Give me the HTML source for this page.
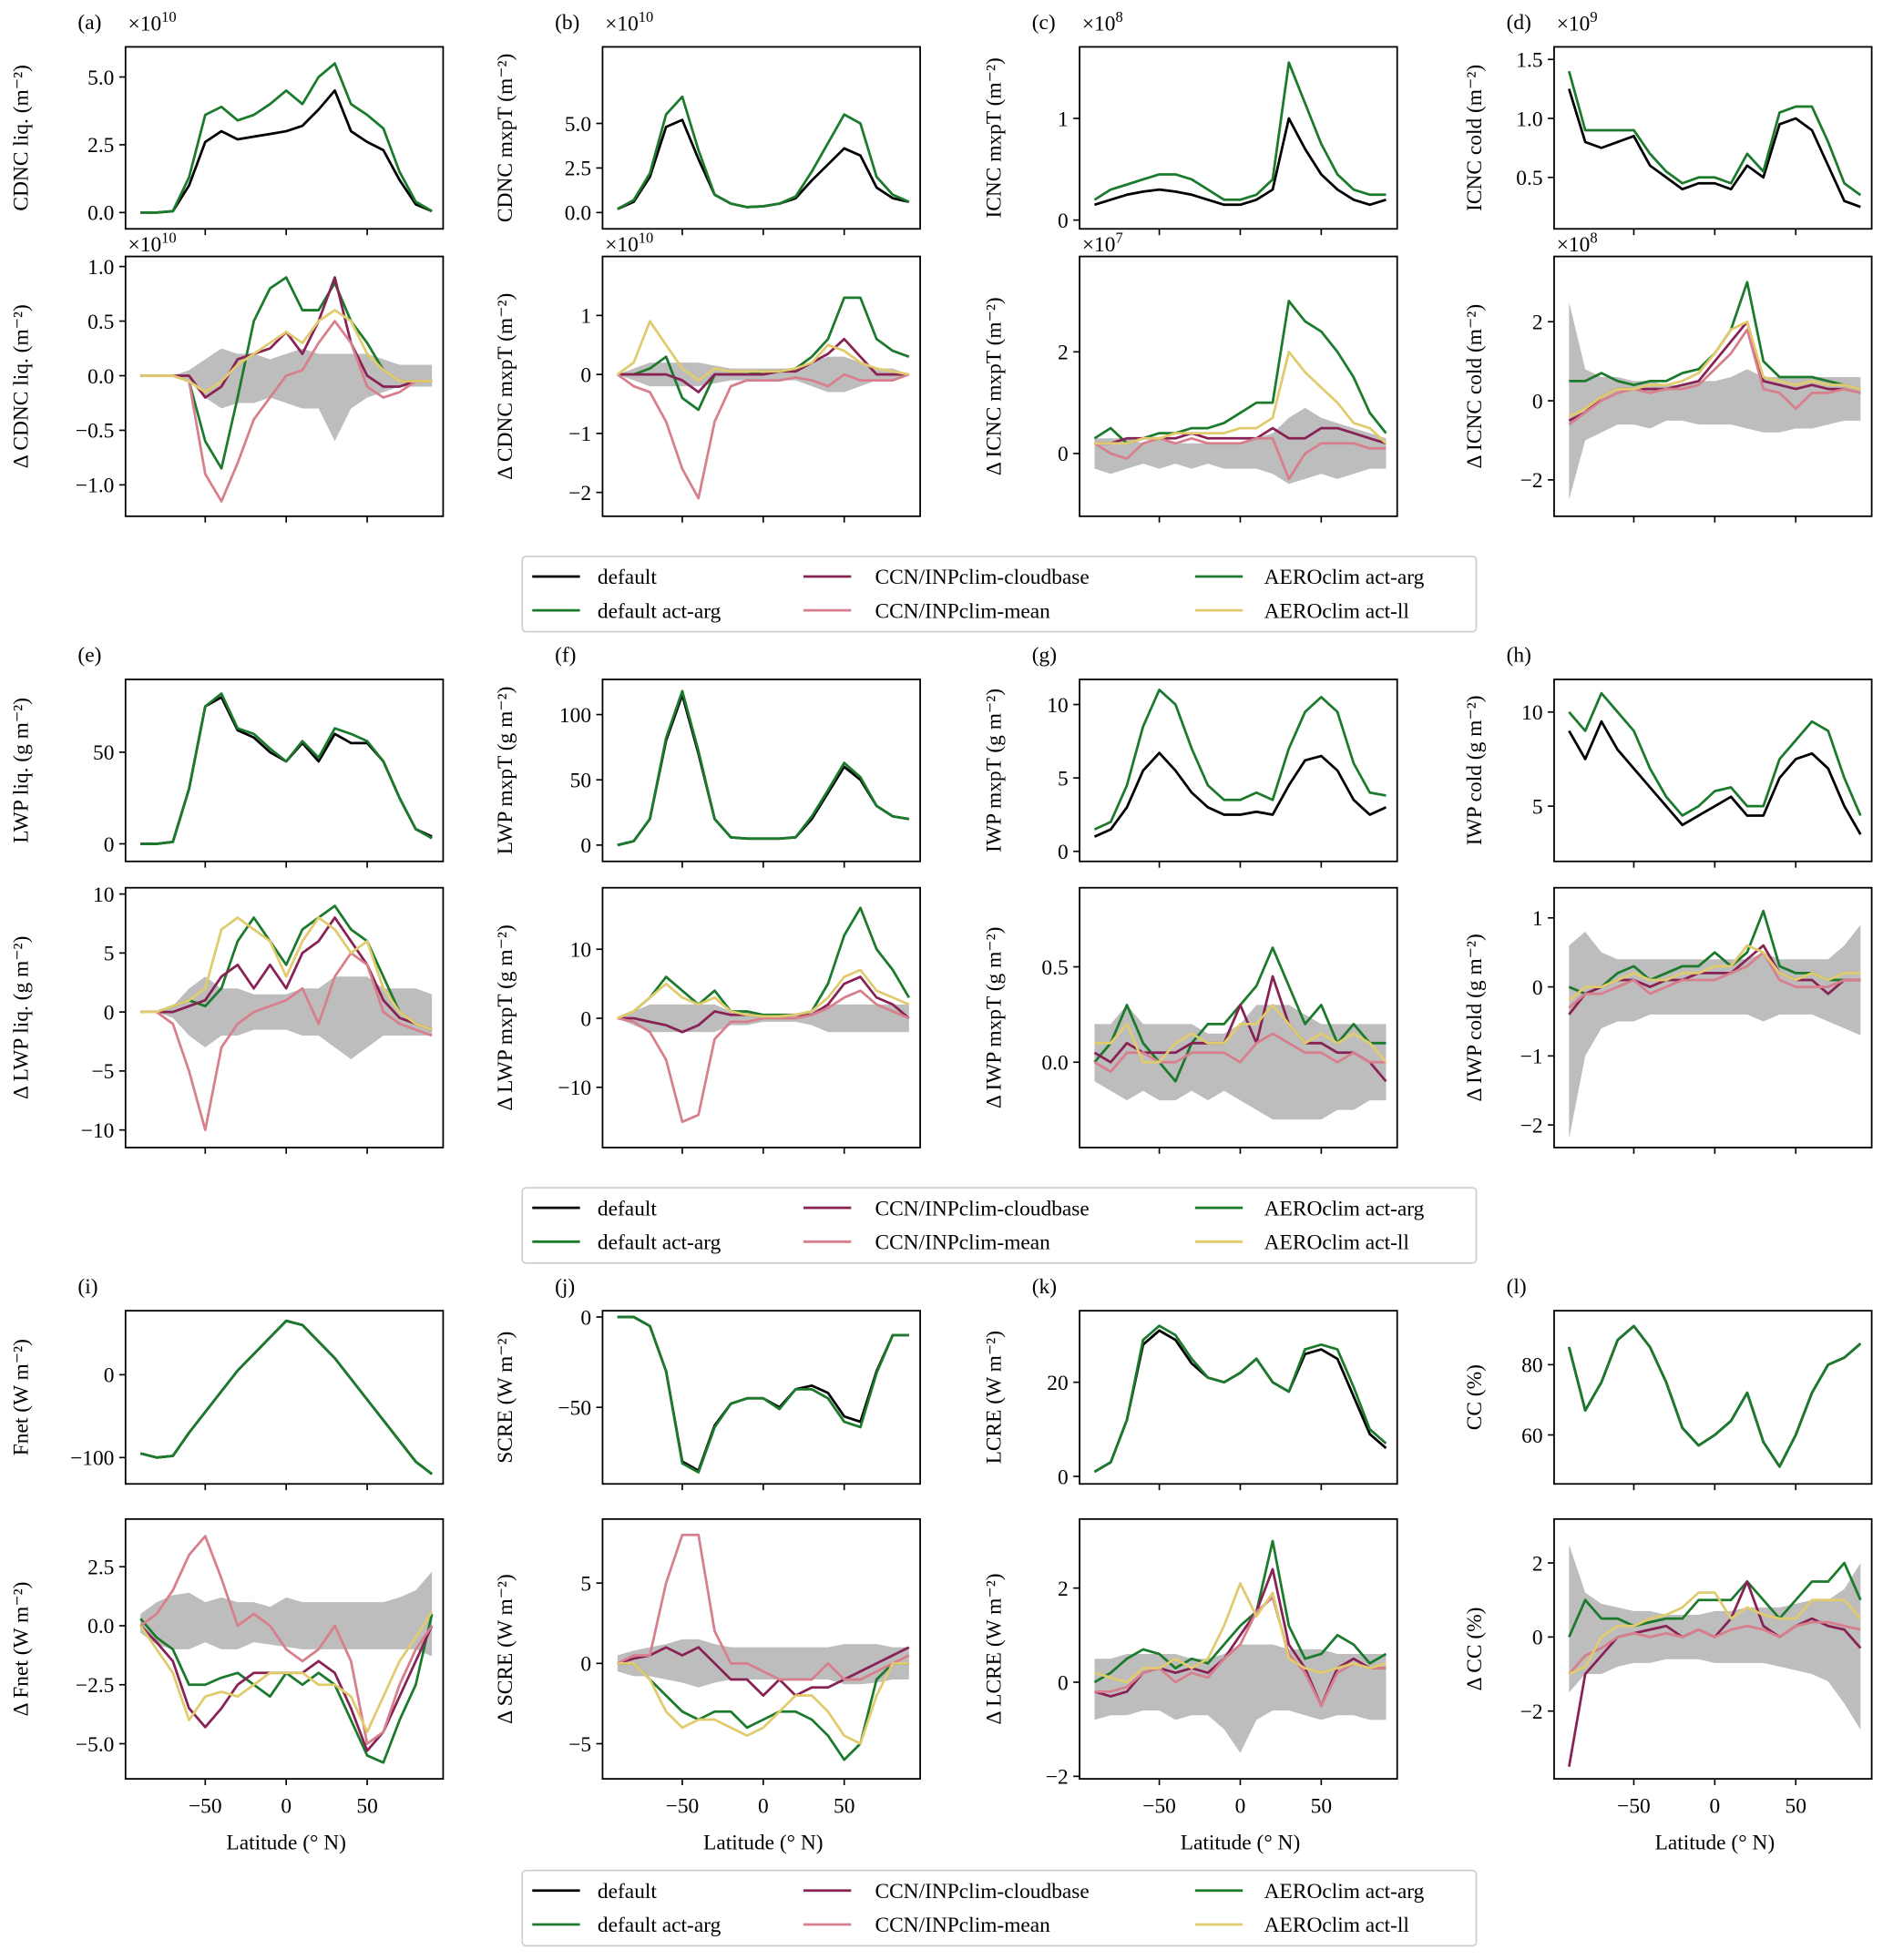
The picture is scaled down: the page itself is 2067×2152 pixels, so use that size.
<!DOCTYPE html>
<html><head><meta charset="utf-8">
<style>
html,body{margin:0;padding:0;background:#fff;}
svg{display:block;font-family:"Liberation Serif",serif;}
</style></head>
<body>
<svg id="fig" width="2067" height="2152" viewBox="0 0 1500 1561" xmlns="http://www.w3.org/2000/svg"></svg>
<script>
const lat=[-90,-80,-70,-60,-50,-40,-30,-20,-10,0,10,20,30,40,50,60,70,80,90];
const xTicks=[-50,0,50];
// (a)
const aTopBlack=[0,0,0.05,1.0,2.6,3.0,2.7,2.8,2.9,3.0,3.2,3.8,4.5,3.0,2.6,2.3,1.2,0.3,0.05];
const aTopGreen=[0,0,0.05,1.3,3.6,3.9,3.4,3.6,4.0,4.5,4.0,5.0,5.5,4.0,3.6,3.1,1.5,0.4,0.05];
const aGreen=[0,0,0,-0.05,-0.6,-0.85,-0.2,0.5,0.8,0.9,0.6,0.6,0.85,0.5,0.3,0.05,-0.05,-0.05,-0.05];
const aMaroon=[0,0,0,0,-0.2,-0.1,0.15,0.2,0.25,0.4,0.2,0.5,0.9,0.3,0,-0.1,-0.1,-0.05,-0.05];
const aPink=[0,0,0,-0.05,-0.9,-1.15,-0.8,-0.4,-0.2,0.0,0.05,0.3,0.5,0.3,-0.1,-0.2,-0.15,-0.05,-0.05];
const aYellow=[0,0,0,-0.05,-0.15,-0.05,0.1,0.2,0.3,0.4,0.3,0.5,0.6,0.5,0.2,0.05,-0.05,-0.05,-0.05];
const aLo=[0,0,0,-0.05,-0.2,-0.3,-0.25,-0.25,-0.2,-0.25,-0.3,-0.3,-0.6,-0.3,-0.2,-0.15,-0.1,-0.1,-0.1];
const aHi=[0,0,0,0.05,0.15,0.25,0.2,0.2,0.15,0.2,0.25,0.2,0.2,0.2,0.2,0.15,0.1,0.1,0.1];
// (b)
const bTopBlack=[0.2,0.6,2.0,4.8,5.2,3.0,1.0,0.5,0.3,0.35,0.5,0.8,1.8,2.7,3.6,3.2,1.4,0.8,0.6];
const bTopGreen=[0.2,0.7,2.2,5.5,6.5,3.5,1.0,0.5,0.3,0.35,0.5,0.9,2.3,3.9,5.5,5.0,2.0,1.0,0.6];
const bGreen=[0,0,0.1,0.3,-0.4,-0.6,0,0,0,0.05,0.05,0.1,0.3,0.6,1.3,1.3,0.6,0.4,0.3];
const bMaroon=[0,0,0,0,-0.1,-0.3,0,0,0,0,0.05,0.05,0.2,0.35,0.6,0.3,0,0,0];
const bPink=[0,-0.2,-0.3,-0.8,-1.6,-2.1,-0.8,-0.2,-0.1,-0.1,-0.1,-0.05,-0.1,-0.2,0,-0.1,-0.1,-0.1,0];
const bYellow=[0,0.2,0.9,0.5,0.1,-0.1,0.1,0.05,0.05,0.05,0.05,0.1,0.2,0.5,0.4,0.2,0.1,0.05,0];
const bLo=[0,-0.1,-0.2,-0.2,-0.2,-0.2,-0.15,-0.1,-0.1,-0.1,-0.1,-0.1,-0.2,-0.3,-0.3,-0.2,-0.1,-0.1,0];
const bHi=[0,0.1,0.2,0.2,0.2,0.2,0.15,0.1,0.1,0.1,0.1,0.1,0.2,0.3,0.3,0.2,0.1,0.1,0];
// (c)
const cTopBlack=[0.15,0.2,0.25,0.28,0.3,0.28,0.25,0.2,0.15,0.15,0.2,0.3,1.0,0.7,0.45,0.3,0.2,0.15,0.2];
const cTopGreen=[0.2,0.3,0.35,0.4,0.45,0.45,0.4,0.3,0.2,0.2,0.25,0.4,1.55,1.15,0.75,0.45,0.3,0.25,0.25];
const cGreen=[0.3,0.5,0.2,0.3,0.4,0.4,0.5,0.5,0.6,0.8,1.0,1.0,3.0,2.6,2.4,2.0,1.5,0.8,0.4];
const cMaroon=[0.2,0.2,0.3,0.3,0.3,0.3,0.4,0.3,0.3,0.3,0.3,0.5,0.3,0.3,0.5,0.5,0.4,0.3,0.2];
const cPink=[0.2,0,-0.1,0.2,0.3,0.2,0.3,0.2,0.2,0.2,0.3,0.3,-0.5,0,0.2,0.2,0.2,0.1,0.1];
const cYellow=[0.2,0.2,0.2,0.3,0.3,0.4,0.4,0.4,0.4,0.5,0.5,0.7,2.0,1.6,1.3,1.0,0.6,0.5,0.2];
const cLo=[-0.3,-0.4,-0.3,-0.2,-0.3,-0.2,-0.3,-0.2,-0.3,-0.3,-0.3,-0.4,-0.6,-0.5,-0.4,-0.5,-0.4,-0.3,-0.3];
const cHi=[0.3,0.3,0.3,0.2,0.3,0.2,0.2,0.2,0.2,0.2,0.3,0.4,0.7,0.9,0.7,0.6,0.5,0.4,0.3];
// (d)
const dTopBlack=[1.25,0.8,0.75,0.8,0.85,0.6,0.5,0.4,0.45,0.45,0.4,0.6,0.5,0.95,1.0,0.9,0.6,0.3,0.25];
const dTopGreen=[1.4,0.9,0.9,0.9,0.9,0.7,0.55,0.45,0.5,0.5,0.45,0.7,0.55,1.05,1.1,1.1,0.8,0.45,0.35];
const dGreen=[0.5,0.5,0.7,0.5,0.4,0.5,0.5,0.7,0.8,1.2,1.8,3.0,1.0,0.6,0.6,0.6,0.5,0.4,0.3];
const dMaroon=[-0.5,-0.3,0.1,0.3,0.3,0.3,0.3,0.4,0.5,1.0,1.5,2.0,0.5,0.4,0.3,0.4,0.3,0.3,0.2];
const dPink=[-0.6,-0.3,0,0.2,0.3,0.2,0.3,0.3,0.4,0.8,1.2,1.8,0.3,0.2,-0.2,0.2,0.2,0.3,0.2];
const dYellow=[-0.4,-0.2,0.1,0.3,0.3,0.4,0.4,0.5,0.7,1.2,1.8,2.0,0.6,0.5,0.4,0.5,0.4,0.4,0.3];
const dLo=[-2.5,-1.0,-0.8,-0.6,-0.6,-0.7,-0.5,-0.5,-0.6,-0.6,-0.6,-0.7,-0.8,-0.8,-0.7,-0.7,-0.6,-0.5,-0.5];
const dHi=[2.5,0.8,0.6,0.6,0.5,0.5,0.4,0.4,0.5,0.5,0.6,0.8,0.6,0.6,0.6,0.6,0.6,0.6,0.6];
// (e)
const eTopBlack=[0,0,1,30,75,80,62,58,50,45,55,45,60,55,55,45,25,8,4];
const eTopGreen=[0,0,1,30,75,82,63,60,52,45,56,47,63,60,56,45,25,8,3];
const eGreen=[0,0,0.5,1,0.5,2,6,8,6,4,7,8,9,7,6,3,0,-1,-1.5];
const eMaroon=[0,0,0,0.5,1,3,4,2,4,2,5,6,8,6,4,1,-0.5,-1,-1.5];
const ePink=[0,0,-1,-5,-10,-3,-1,0,0.5,1,2,-1,3,5,4,0,-1,-1.5,-2];
const eYellow=[0,0,0.5,1,2,7,8,7,6,3,6,8,7,5,6,2,0,-1,-1.5];
const eLo=[0,0,-0.5,-2,-3,-2,-2,-1.5,-1.5,-1.5,-2,-2,-3,-4,-3,-2,-2,-2,-2];
const eHi=[0,0,0.5,2,3,2,2,1.5,1.5,1.5,2,2,3,3,3,2,2,2,1.5];
// (f)
const fTopBlack=[0,3,20,80,115,70,20,6,5,5,5,6,20,40,60,50,30,22,20];
const fTopGreen=[0,3,20,82,118,72,20,6,5,5,5,6,22,42,63,52,30,22,20];
const fGreen=[0,1,3,6,4,2,4,1,1,0.5,0.5,0.5,1,5,12,16,10,7,3];
const fMaroon=[0,0,-0.5,-1,-2,-1,1,0.5,0.5,0.3,0.3,0.5,0.5,2,5,6,3,2,0];
const fPink=[0,-0.5,-2,-6,-15,-14,-3,-0.5,-0.5,0,0,0,0.5,1.5,3,4,2,1,0];
const fYellow=[0,1,3,5,3,2,3,1,0.5,0.3,0.3,0.5,1,3,6,7,4,3,2];
const fLo=[0,-1,-2,-2,-2,-2,-2,-1,-1,-0.5,-0.5,-0.5,-1,-2,-2,-2,-2,-2,-2];
const fHi=[0,1,2,2,2,2,2,1,1,0.5,0.5,0.5,1,2,2,2,2,2,2];
// (g)
const gTopBlack=[1,1.5,3,5.5,6.7,5.5,4,3,2.5,2.5,2.7,2.5,4.5,6.2,6.5,5.5,3.5,2.5,3];
const gTopGreen=[1.5,2,4.5,8.5,11,10,7,4.5,3.5,3.5,4.0,3.5,7,9.5,10.5,9.5,6,4,3.8];
const gGreen=[0,0.1,0.3,0.1,0,-0.1,0.1,0.2,0.2,0.3,0.4,0.6,0.4,0.2,0.3,0.1,0.2,0.1,0.1];
const gMaroon=[0.05,0,0.1,0.05,0.05,0.05,0.1,0.1,0.1,0.3,0.1,0.45,0.2,0.1,0.1,0.05,0.05,0,-0.1];
const gPink=[0,-0.05,0.05,0.05,0,0,0.05,0.05,0.05,0,0.1,0.15,0.1,0.05,0.05,0,0.05,0,0];
const gYellow=[0.1,0.1,0.2,0,0,0.1,0.15,0.1,0.1,0.2,0.2,0.3,0.2,0.1,0.15,0.1,0.15,0.1,0];
const gLo=[-0.1,-0.15,-0.2,-0.15,-0.2,-0.2,-0.15,-0.2,-0.15,-0.2,-0.25,-0.3,-0.3,-0.3,-0.3,-0.25,-0.25,-0.2,-0.2];
const gHi=[0.2,0.2,0.3,0.2,0.2,0.2,0.2,0.15,0.15,0.2,0.3,0.3,0.3,0.25,0.2,0.2,0.2,0.2,0.2];
// (h)
const hTopBlack=[9,7.5,9.5,8,7,6,5,4,4.5,5,5.5,4.5,4.5,6.5,7.5,7.8,7,5,3.5];
const hTopGreen=[10,9,11,10,9,7,5.5,4.5,5,5.8,6,5,5,7.5,8.5,9.5,9,6.5,4.5];
const hGreen=[0,-0.1,0,0.2,0.3,0.1,0.2,0.3,0.3,0.5,0.3,0.5,1.1,0.3,0.2,0.2,0.1,0.1,0.1];
const hMaroon=[-0.4,-0.1,0,0.1,0.1,0,0.1,0.1,0.2,0.2,0.2,0.4,0.6,0.2,0.1,0.1,-0.1,0.1,0.1];
const hPink=[-0.3,-0.1,-0.1,0,0.1,-0.1,0,0.1,0.1,0.1,0.2,0.3,0.5,0.1,0,0,0,0.1,0.1];
const hYellow=[-0.2,0,0,0.1,0.2,0.1,0.1,0.2,0.2,0.3,0.3,0.6,0.5,0.2,0.1,0.2,0.1,0.2,0.2];
const hLo=[-2.2,-1,-0.6,-0.5,-0.5,-0.4,-0.4,-0.4,-0.4,-0.4,-0.4,-0.4,-0.5,-0.4,-0.4,-0.4,-0.5,-0.6,-0.7];
const hHi=[0.6,0.8,0.5,0.4,0.4,0.4,0.4,0.4,0.4,0.4,0.4,0.4,0.5,0.4,0.4,0.4,0.4,0.6,0.9];
// (i)
const iTopBlack=[-95,-100,-98,-70,-45,-20,5,25,45,65,60,40,20,-5,-30,-55,-80,-105,-120];
const iTopGreen=[-95,-100,-98,-70,-45,-20,5,25,45,65,60,40,20,-5,-30,-55,-80,-105,-120];
const iGreen=[0.3,-0.5,-1,-2.5,-2.5,-2.2,-2,-2.5,-3,-2,-2.5,-2,-2.5,-4,-5.5,-5.8,-4,-2.5,0.5];
const iMaroon=[0,-0.7,-1.5,-3.5,-4.3,-3.5,-2.5,-2,-2,-2,-2,-1.5,-2,-3.5,-5.3,-4.5,-3,-1.5,0];
const iPink=[0,0.5,1.5,3,3.8,2,0,0.5,0,-1,-1.5,-1,0,-1.5,-5,-4.5,-2.5,-1,0];
const iYellow=[0,-1,-2,-4,-3,-2.8,-3,-2.5,-2,-2,-2,-2.5,-2.5,-3,-4.5,-3,-1.5,-0.5,0.6];
const iLo=[-0.3,-0.8,-1,-1,-0.7,-1,-1,-0.7,-0.8,-0.9,-1,-1,-1,-1,-1,-1,-1,-1,-1.3];
const iHi=[0.5,1,1.3,1.4,1,1.2,1,1,0.8,1.2,1,1,1,1,1,1,1.2,1.5,2.3];
// (j)
const jTopBlack=[0,0,-5,-30,-80,-85,-60,-48,-45,-45,-50,-40,-38,-42,-55,-58,-30,-10,-10];
const jTopGreen=[0,0,-5,-30,-81,-86,-61,-48,-45,-45,-51,-40,-40,-45,-58,-61,-31,-10,-10];
const jGreen=[0,0,-1,-2,-3,-3.5,-3,-3,-4,-3.5,-3,-3,-3.5,-4.5,-6,-5,-1,0,0];
const jMaroon=[0,0.3,0.5,1,0.5,1,0,-1,-1,-2,-1,-2,-1.5,-1.5,-1,-0.5,0,0.5,1];
const jPink=[0,0.5,0.5,5,8,8,2,0,0,-0.5,-1,-1,-1,0,-1,-1,-0.5,0,0.5];
const jYellow=[0,0,-1,-3,-4,-3.5,-3.5,-4,-4.5,-4,-3,-2,-2,-3,-4.5,-5,-2,0,0];
const jLo=[-0.5,-0.8,-0.8,-1,-1.2,-1.5,-1.2,-1,-1,-1,-1,-1,-1,-1,-1.3,-1.3,-1.2,-1,-1];
const jHi=[0.5,0.8,1,1.2,1.5,1.5,1.2,1,1,1,1,1,1,1,1.2,1.2,1.2,1,1];
// (k)
const kTopBlack=[1,3,12,28,31,29,24,21,20,22,25,20,18,26,27,25,17,9,6];
const kTopGreen=[1,3,12,29,32,30,25,21,20,22,25,20,18,27,28,27,19,10,7];
const kGreen=[0,0.2,0.5,0.7,0.6,0.3,0.5,0.4,0.8,1.2,1.5,3.0,1.2,0.5,0.6,1.0,0.8,0.4,0.6];
const kMaroon=[-0.2,-0.3,-0.2,0.2,0.3,0.2,0.3,0.2,0.5,1,1.5,2.4,0.8,0.3,-0.5,0.3,0.5,0.3,0.3];
const kPink=[-0.2,-0.2,-0.1,0.2,0.3,0,0.2,0.1,0.5,0.8,1.5,1.8,0.6,0.2,-0.5,0.2,0.4,0.3,0.3];
const kYellow=[0.2,0.1,0,0.3,0.3,0.5,0.3,0.5,1.2,2.1,1.4,1.9,0.5,0.3,0.2,0.3,0.4,0.3,0.4];
const kLo=[-0.8,-0.7,-0.7,-0.6,-0.6,-0.8,-0.7,-0.7,-1.0,-1.5,-0.8,-0.6,-0.6,-0.7,-0.8,-0.7,-0.7,-0.8,-0.8];
const kHi=[0.5,0.5,0.6,0.6,0.6,0.6,0.5,0.5,0.6,0.8,0.8,0.8,0.7,0.7,0.7,0.6,0.6,0.6,0.6];
// (l)
const lTopBlack=[85,67,75,87,91,85,75,62,57,60,64,72,58,51,60,72,80,82,86];
const lTopGreen=[85,67,75,87,91,85,75,62,57,60,64,72,58,51,60,72,80,82,86];
const lGreen=[0,1,0.5,0.5,0.3,0.4,0.5,0.5,1,1,1,1.5,1,0.5,1,1.5,1.5,2,1];
const lMaroon=[-3.5,-1,-0.5,0,0.1,0.2,0.3,0,0.2,0,0.5,1.5,0.3,0,0.3,0.5,0.3,0.2,-0.3];
const lPink=[-1,-0.5,-0.3,0,0.1,0,0.1,0,0.2,0,0.2,0.3,0.2,0,0.3,0.4,0.4,0.3,0.2];
const lYellow=[-1,-0.8,0,0.3,0.3,0.5,0.6,0.8,1.2,1.2,0.5,0.8,0.6,0.5,0.5,1,1,1,0.5];
const lLo=[-1.5,-1,-1,-0.8,-0.7,-0.7,-0.6,-0.6,-0.6,-0.7,-0.7,-0.7,-0.7,-0.8,-0.9,-1,-1.2,-1.8,-2.5];
const lHi=[2.5,1.2,0.9,0.8,0.7,0.7,0.6,0.6,0.6,0.7,0.7,0.8,0.8,0.8,0.9,1,1,1.3,2];

const C={black:'#000000',green:'#1b7a2c',maroon:'#882255',pink:'#d77f8c',yellow:'#e0cb6e',band:'#bdbdbd'};
const NS='http://www.w3.org/2000/svg';
const svg=document.getElementById('fig');
function mk(tag,attrs,parent){const e=document.createElementNS(NS,tag);for(const k in attrs)e.setAttribute(k,attrs[k]);(parent||svg).appendChild(e);return e;}

const colLeft=[100,480,860,1238];
const W=253;
const rows=[[37,182],[204,411],[541,686],[707,914],[1044,1182],[1210,1417]];
const sup='⁻²';
let clipN=0;

function drawPanel(name,col,row,cal,ticks,tlabels,lines,band,ylabel,letter,mult,showX){
  const x0=colLeft[col],y0=rows[row][0],y1=rows[row][1];
  const g=mk('g',{});
  
  
  const xs=v=>x0+128+v*1.29;
  const ys=v=>cal[1]+(v-cal[0])*(cal[3]-cal[1])/(cal[2]-cal[0]);
  const cid='clip'+(clipN++);
  const cp=mk('clipPath',{id:cid},g);mk('rect',{x:x0,y:y0,width:W,height:y1-y0},cp);
  const pg=mk('g',{'clip-path':'url(#'+cid+')'},g);
  if(band){
    let d='';
    lat.forEach((l,i)=>{d+=(i?'L':'M')+xs(l).toFixed(1)+','+ys(band[1][i]).toFixed(1);});
    for(let i=lat.length-1;i>=0;i--)d+='L'+xs(lat[i]).toFixed(1)+','+ys(band[0][i]).toFixed(1);
    const b=mk('path',{d:d+'Z',fill:C.band,stroke:'none'},pg);
    
    
  }
  lines.forEach(s=>{
    const pts=lat.map((l,i)=>xs(l).toFixed(1)+','+ys(s[1][i]).toFixed(1)).join(' ');
    const p=mk('polyline',{points:pts,fill:'none',stroke:C[s[0]],'stroke-width':2,'stroke-linejoin':'round'},pg);
    
    
  });
  mk('rect',{x:x0,y:y0,width:W,height:y1-y0,fill:'none',stroke:'#000','stroke-width':1.3},g);
  ticks.forEach((t,i)=>{
    const y=ys(t);
    mk('line',{x1:x0-5,x2:x0,y1:y,y2:y,stroke:'#000','stroke-width':1.2},g);
    const tx=mk('text',{x:x0-9,y:y+6,'text-anchor':'end','font-size':17},g);
    tx.textContent=tlabels[i];
    
    
  });
  xTicks.forEach(t=>{
    mk('line',{x1:xs(t),x2:xs(t),y1:y1,y2:y1+5,stroke:'#000','stroke-width':1.2},g);
    if(showX){
      const tx=mk('text',{x:xs(t),y:y1+27,'text-anchor':'middle','font-size':17},g);
      tx.textContent=t<0?'−'+(-t):String(t);
      
      
    }
  });
  if(showX){
    const xl=mk('text',{x:x0+128,y:y1+56,'text-anchor':'middle','font-size':17},g);
    xl.textContent='Latitude (° N)';
    
    
  }
  const yc=(y0+y1)/2, lx=x0-(col===0?78:col===1?72:col===2?63:58);
  const yl=mk('text',{x:lx,y:yc,'text-anchor':'middle','font-size':17,transform:'rotate(-90 '+lx+' '+yc+')'},g);
  yl.textContent=ylabel;
  
  
  if(letter){
    const lt=mk('text',{x:x0-38,y:y0-14,'font-size':17},g);
    lt.textContent=letter;
    
    
  }
  if(mult){
    const my=(row%2===1)?y0-4:y0-13;
    const mt=mk('text',{x:x0+2,y:my,'font-size':17},mt0=g);
    mt.textContent='×10';
    const ts=mk('tspan',{dy:-7,'font-size':12},mt);ts.textContent=mult;
    
    
  }
}
let mt0;
function D(g,m,p,y){return [['green',g],['maroon',m],['pink',p],['yellow',y]];}
function T(b,g){return [['black',b],['green',g]];}

drawPanel('panel-a-top',0,0,[0,169,5,61],[0,2.5,5],['0.0','2.5','5.0'],T(aTopBlack,aTopGreen),null,'CDNC liq. (m'+sup+')','(a)','10',false);
drawPanel('panel-a-bottom',0,1,[0,299,1,212],[-1,-0.5,0,0.5,1],['−1.0','−0.5','0.0','0.5','1.0'],D(aGreen,aMaroon,aPink,aYellow),[aLo,aHi],'Δ CDNC liq. (m'+sup+')','', '10',false);
drawPanel('panel-b-top',1,0,[0,169,5,98],[0,2.5,5],['0.0','2.5','5.0'],T(bTopBlack,bTopGreen),null,'CDNC mxpT (m'+sup+')','(b)','10',false);
drawPanel('panel-b-bottom',1,1,[0,298,1,251],[-2,-1,0,1],['−2','−1','0','1'],D(bGreen,bMaroon,bPink,bYellow),[bLo,bHi],'Δ CDNC mxpT (m'+sup+')','','10',false);
drawPanel('panel-c-top',2,0,[0,175,1,94],[0,1],['0','1'],T(cTopBlack,cTopGreen),null,'ICNC mxpT (m'+sup+')','(c)','8',false);
drawPanel('panel-c-bottom',2,1,[0,361,2,280],[0,2],['0','2'],D(cGreen,cMaroon,cPink,cYellow),[cLo,cHi],'Δ ICNC mxpT (m'+sup+')','','7',false);
drawPanel('panel-d-top',3,0,[0.5,141,1.5,47],[0.5,1,1.5],['0.5','1.0','1.5'],T(dTopBlack,dTopGreen),null,'ICNC cold (m'+sup+')','(d)','9',false);
drawPanel('panel-d-bottom',3,1,[0,319,2,256],[-2,0,2],['−2','0','2'],D(dGreen,dMaroon,dPink,dYellow),[dLo,dHi],'Δ ICNC cold (m'+sup+')','','8',false);

drawPanel('panel-e-top',0,2,[0,672,50,599],[0,50],['0','50'],T(eTopBlack,eTopGreen),null,'LWP liq. (g m'+sup+')','(e)','',false);
drawPanel('panel-e-bottom',0,3,[0,806,10,712],[-10,-5,0,5,10],['−10','−5','0','5','10'],D(eGreen,eMaroon,ePink,eYellow),[eLo,eHi],'Δ LWP liq. (g m'+sup+')','','',false);
drawPanel('panel-f-top',1,2,[0,673,100,569],[0,50,100],['0','50','100'],T(fTopBlack,fTopGreen),null,'LWP mxpT (g m'+sup+')','(f)','',false);
drawPanel('panel-f-bottom',1,3,[0,811,10,756],[-10,0,10],['−10','0','10'],D(fGreen,fMaroon,fPink,fYellow),[fLo,fHi],'Δ LWP mxpT (g m'+sup+')','','',false);
drawPanel('panel-g-top',2,2,[0,678,10,561],[0,5,10],['0','5','10'],T(gTopBlack,gTopGreen),null,'IWP mxpT (g m'+sup+')','(g)','',false);
drawPanel('panel-g-bottom',2,3,[0,846,0.5,770],[0,0.5],['0.0','0.5'],D(gGreen,gMaroon,gPink,gYellow),[gLo,gHi],'Δ IWP mxpT (g m'+sup+')','','',false);
drawPanel('panel-h-top',3,2,[5,642,10,567],[5,10],['5','10'],T(hTopBlack,hTopGreen),null,'IWP cold (g m'+sup+')','(h)','',false);
drawPanel('panel-h-bottom',3,3,[0,786,1,731],[-2,-1,0,1],['−2','−1','0','1'],D(hGreen,hMaroon,hPink,hYellow),[hLo,hHi],'Δ IWP cold (g m'+sup+')','','',false);

drawPanel('panel-i-top',0,4,[0,1095,-100,1161],[-100,0],['−100','0'],T(iTopBlack,iTopGreen),null,'Fnet (W m'+sup+')','(i)','',false);
drawPanel('panel-i-bottom',0,5,[0,1295,2.5,1248],[-5,-2.5,0,2.5],['−5.0','−2.5','0.0','2.5'],D(iGreen,iMaroon,iPink,iYellow),[iLo,iHi],'Δ Fnet (W m'+sup+')','','',true);
drawPanel('panel-j-top',1,4,[0,1049,-50,1121],[-50,0],['−50','0'],T(jTopBlack,jTopGreen),null,'SCRE (W m'+sup+')','(j)','',false);
drawPanel('panel-j-bottom',1,5,[0,1325,5,1261],[-5,0,5],['−5','0','5'],D(jGreen,jMaroon,jPink,jYellow),[jLo,jHi],'Δ SCRE (W m'+sup+')','','',true);
drawPanel('panel-k-top',2,4,[0,1176,20,1101],[0,20],['0','20'],T(kTopBlack,kTopGreen),null,'LCRE (W m'+sup+')','(k)','',false);
drawPanel('panel-k-bottom',2,5,[0,1340,2,1265],[-2,0,2],['−2','0','2'],D(kGreen,kMaroon,kPink,kYellow),[kLo,kHi],'Δ LCRE (W m'+sup+')','','',true);
drawPanel('panel-l-top',3,4,[60,1143,80,1087],[60,80],['60','80'],T(lTopBlack,lTopGreen),null,'CC (%)','(l)','',false);
drawPanel('panel-l-bottom',3,5,[0,1304,2,1245],[-2,0,2],['−2','0','2'],D(lGreen,lMaroon,lPink,lYellow),[lLo,lHi],'Δ CC (%)','','',true);

const legNames=['default','default act-arg','CCN/INPclim-cloudbase','CCN/INPclim-mean','AEROclim act-arg','AEROclim act-ll'];
const legColors=['black','green','maroon','pink','green','yellow'];
[443,946,1490].forEach(ly=>{
  const g=mk('g',{});
  
  
  mk('rect',{x:416,y:ly,width:760,height:60,rx:3,fill:'#fff',stroke:'#cccccc','stroke-width':1.2},g);
  const colX=[[424,476],[640,697],[952,1007]];
  legNames.forEach((n,i)=>{
    const c=Math.floor(i/2),r=i%2;
    const yy=ly+16+r*27;
    const e=mk('g',{},g);
    
    
    mk('line',{x1:colX[c][0],x2:colX[c][0]+38,y1:yy,y2:yy,stroke:C[legColors[i]],'stroke-width':2},e);
    const t=mk('text',{x:colX[c][1],y:yy+6,'font-size':17},e);
    t.textContent=n;
  });
});
</script>
</body></html>
